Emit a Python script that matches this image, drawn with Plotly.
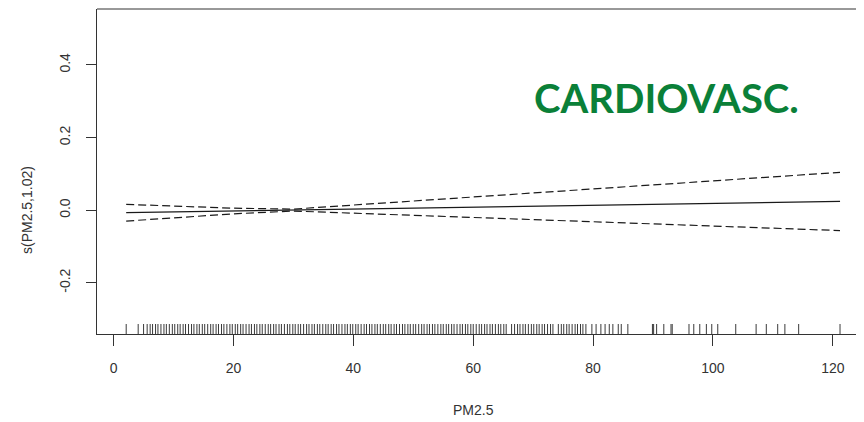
import plotly.graph_objects as go

# ---- data ----
pm_grid = [2.1, 10, 20, 30, 40, 50, 60, 70, 80, 90, 100, 110, 121.2]
fit = [-0.0070, -0.0049, -0.0023, 0.0003, 0.0029, 0.0055, 0.0081, 0.0107,
       0.0133, 0.0159, 0.0185, 0.0211, 0.0240]
upper = [0.0160, 0.0114, 0.0055, 0.0030, 0.0141, 0.0252, 0.0363, 0.0474,
         0.0585, 0.0696, 0.0807, 0.0918, 0.1042]
lower = [-0.0300, -0.0212, -0.0101, -0.0024, -0.0083, -0.0142, -0.0201, -0.0260,
         -0.0319, -0.0378, -0.0437, -0.0496, -0.0562]

rug_values = [
    2.1, 4.1, 5.0, 5.6, 6.1, 6.5, 7.0, 7.4, 7.9, 8.4, 8.8, 9.3, 9.8, 10.2, 10.7,
    11.1, 11.6, 12.0, 12.5, 13.0, 13.4, 13.9, 14.3, 14.8, 15.2, 15.7, 16.2, 16.6,
    17.1, 17.5, 18.0, 18.4, 18.9, 19.4, 19.8, 20.3, 20.7, 21.2, 21.6, 22.1, 22.6,
    23.0, 23.5, 23.9, 24.4, 24.8, 25.3, 25.8, 26.2, 26.7, 27.1, 27.6, 28.0, 28.5,
    29.0, 29.4, 29.9, 30.3, 30.8, 31.2, 31.7, 32.2, 32.6, 33.1, 33.5, 34.0, 34.4,
    34.9, 35.4, 35.8, 36.3, 36.7, 37.2, 37.6, 38.1, 38.6, 39.0, 39.5, 39.9, 40.4,
    40.8, 41.3, 41.8, 42.2, 42.7, 43.1, 43.6, 44.0, 44.5, 45.0, 45.4, 45.9, 46.3,
    46.8, 47.2, 47.7, 48.2, 48.6, 49.1, 49.5, 50.0, 50.4, 50.9, 51.4, 51.8, 52.3,
    52.7, 53.2, 53.6, 54.1, 54.6, 55.0, 55.5, 55.9, 56.4, 56.8, 57.3, 57.8, 58.2,
    58.7, 59.1, 59.6, 60.0, 60.5, 61.0, 61.4, 61.9, 62.3, 62.8, 63.2, 63.7, 64.2,
    64.6, 65.1, 65.5, 66.4, 66.9, 67.4, 67.8, 68.3, 68.7, 69.2, 69.7, 70.1, 70.6,
    71.0, 71.5, 71.9, 72.4, 72.9, 73.3, 74.2, 74.7, 75.1, 75.6, 76.0, 76.5, 77.0,
    77.4, 77.9, 78.3, 78.8, 79.8, 80.5, 81.3, 82.0, 82.7, 83.3, 84.2, 84.7, 85.8,
    89.9, 90.1, 90.6, 91.8, 93.0, 93.2, 96.0, 96.8, 97.8, 98.9, 99.8, 100.8,
    103.8, 107.2, 108.9, 110.8, 112.0, 114.3, 121.2,
]

x_ticks = [0, 20, 40, 60, 80, 100, 120]
y_ticks = [-0.2, 0.0, 0.2, 0.4]
y_tick_labels = ["-0.2", "0.0", "0.2", "0.4"]

x_title = "PM2.5"
y_title = "s(PM2.5,1.02)"
panel_label = "CARDIOVASC."

# ---- figure ----
X_RANGE = [-2.77, 125.2]
Y_RANGE = [-0.341, 0.554]
RUG_LEN = 0.0275

LINE_COL = "#1a1a1a"
AXIS_COL = "#333333"
TEXT_COL = "#333333"

fig = go.Figure()

# rug
rx, ry = [], []
for v in rug_values:
    rx += [v, v, None]
    ry += [Y_RANGE[0], Y_RANGE[0] + RUG_LEN, None]
fig.add_trace(go.Scatter(x=rx, y=ry, mode="lines",
                         line=dict(color="#3a3a3a", width=1),
                         hoverinfo="skip", showlegend=False))

fig.add_trace(go.Scatter(x=pm_grid, y=upper, mode="lines",
                         line=dict(color=LINE_COL, width=1.2, dash="8px,4px"),
                         showlegend=False))
fig.add_trace(go.Scatter(x=pm_grid, y=lower, mode="lines",
                         line=dict(color=LINE_COL, width=1.2, dash="8px,4px"),
                         showlegend=False))
fig.add_trace(go.Scatter(x=pm_grid, y=fit, mode="lines",
                         line=dict(color=LINE_COL, width=1.3),
                         showlegend=False))

axis_font = dict(family="Liberation Sans, Arial, sans-serif", size=14, color=TEXT_COL)

fig.update_layout(
    width=856, height=414,
    margin=dict(l=89, r=0, t=1, b=88),
    paper_bgcolor="white", plot_bgcolor="white",
    xaxis=dict(range=X_RANGE, tickvals=x_ticks, ticks="outside", ticklen=11,
               tickcolor=AXIS_COL, tickwidth=1, showline=True, linecolor=AXIS_COL,
               linewidth=1, showgrid=False, zeroline=False, tickfont=axis_font,
               ticklabelstandoff=10),
    yaxis=dict(range=Y_RANGE, tickvals=y_ticks, ticktext=y_tick_labels,
               ticks="outside", ticklen=10, tickcolor=AXIS_COL, tickwidth=1,
               showline=True, linecolor=AXIS_COL, linewidth=1, showgrid=False,
               zeroline=False, tickangle=-90, tickfont=axis_font,
               ticklabelstandoff=10),
    shapes=[dict(type="line", xref="paper", yref="paper", x0=0, x1=1, y0=1, y1=1,
                 line=dict(color=AXIS_COL, width=1))],
    annotations=[
        dict(text=x_title, xref="paper", yref="paper", x=(473 - 97) / 767,
             y=0, yshift=-76, showarrow=False, font=axis_font,
             xanchor="center", yanchor="middle"),
        dict(text=y_title, xref="paper", yref="paper", x=0, xshift=-70,
             y=(334 - 210) / 325, showarrow=False, font=axis_font, textangle=-90,
             xanchor="center", yanchor="middle"),
        dict(text=panel_label, xref="paper", yref="paper",
             x=(666 - 97) / 767, y=(334 - 98) / 325, showarrow=False,
             font=dict(family="Lato, Open Sans, sans-serif", size=40,
                       color="#0a8038", weight="bold"),
             xanchor="center", yanchor="middle"),
    ],
)

fig.write_html("out.html")
